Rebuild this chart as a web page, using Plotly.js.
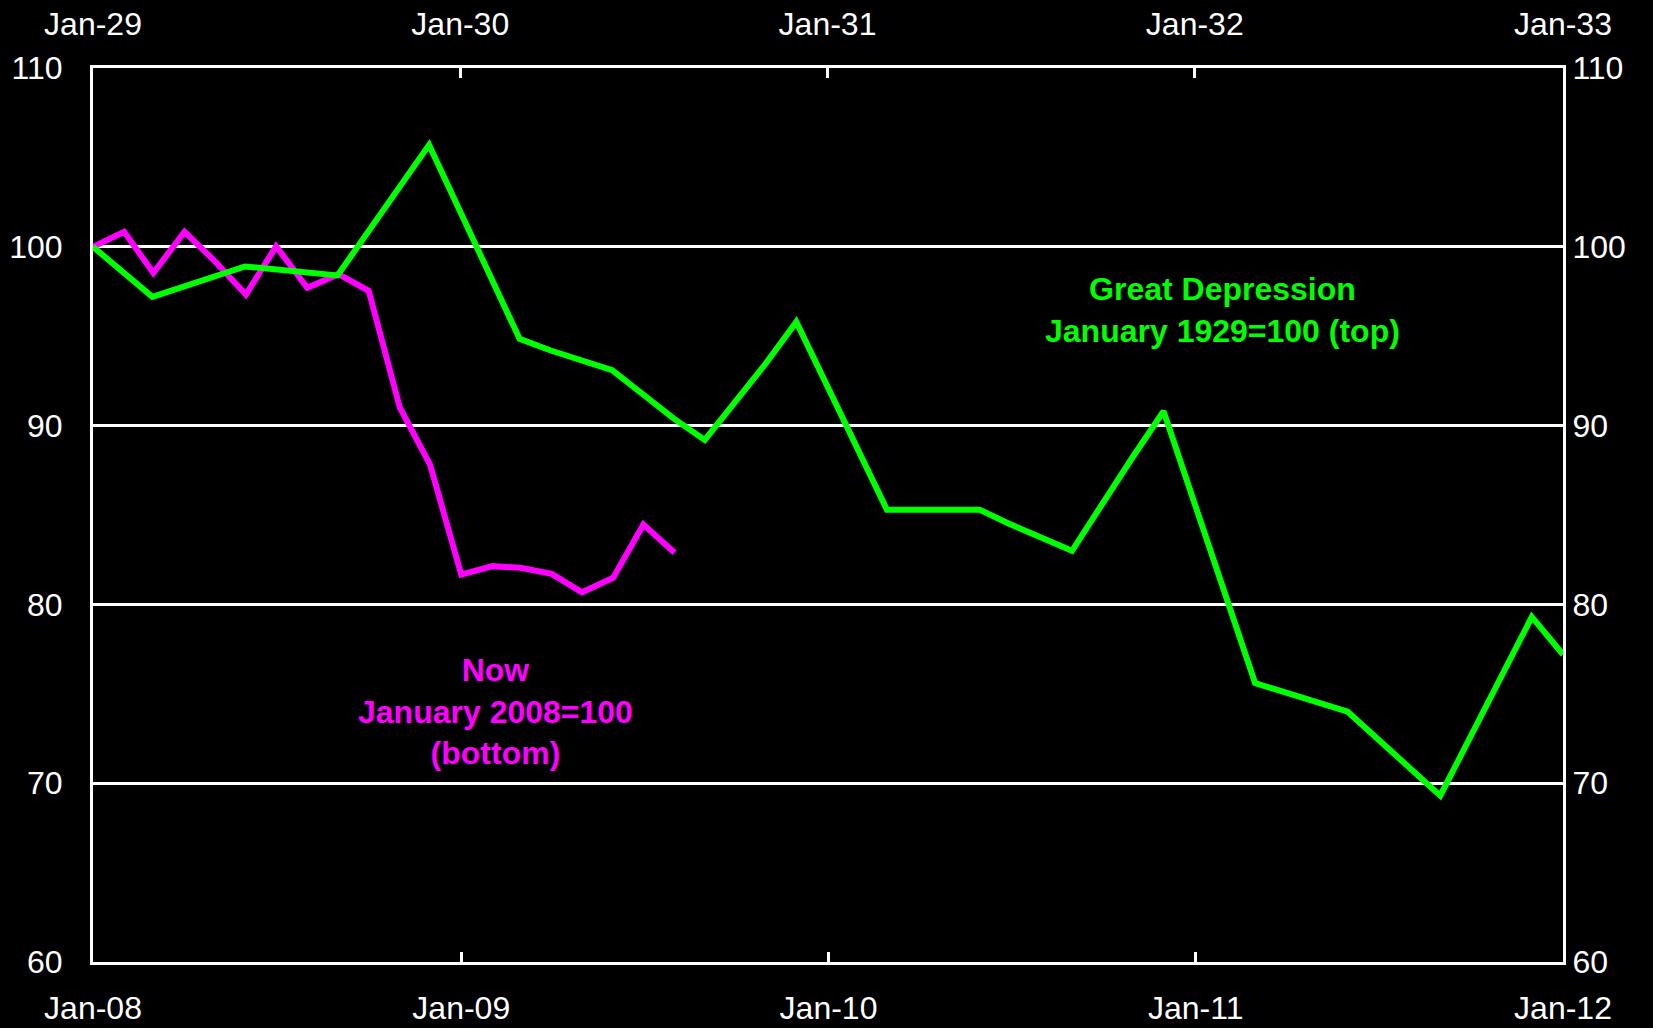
<!DOCTYPE html>
<html>
<head>
<meta charset="utf-8">
<script src="https://cdn.plot.ly/plotly-3.0.1.min.js"></script>
<style>
  html, body { margin: 0; padding: 0; background: #000; }
  #chart { width: 1653px; height: 1028px; }
</style>
</head>
<body>
<div id="chart"></div>
<script>
// Great Depression, January 1929 = 100 (top axis)
const gdDates = ['1929-01','1929-03','1929-06','1929-09','1929-12','1930-03','1930-04','1930-06','1930-08','1930-09','1930-11','1930-12','1931-03','1931-06','1931-07','1931-09','1931-11','1931-12','1932-03','1932-06','1932-09','1932-12','1933-01'];
const gdValues = [100, 97.2, 98.9, 98.4, 105.7, 94.85, 94.2, 93.1, 90.4, 89.2, 93.5, 95.8, 85.3, 85.3, 84.5, 83.0, 88.3, 90.8, 75.6, 74.0, 69.3, 79.3, 77.2];

// Now, January 2008 = 100 (bottom axis)
const nowDates = ['2008-01','2008-02','2008-03','2008-04','2008-05','2008-06','2008-07','2008-08','2008-09','2008-10','2008-11','2008-12','2009-01','2009-02','2009-03','2009-04','2009-05','2009-06','2009-07','2009-08'];
const nowValues = [100, 100.84, 98.54, 100.84, 99.2, 97.33, 100.03, 97.71, 98.47, 97.54, 91.0, 87.82, 81.67, 82.14, 82.05, 81.71, 80.68, 81.49, 84.47, 82.89];

const bottomTicks = ['2008-01-01','2009-01-01','2010-01-01','2011-01-01','2012-01-01'];
const bottomLabels = ['Jan-08','Jan-09','Jan-10','Jan-11','Jan-12'];
const topTicks = ['1929-01-01','1930-01-01','1931-01-01','1932-01-01','1933-01-01'];
const topLabels = ['Jan-29','Jan-30','Jan-31','Jan-32','Jan-33'];
const yTicks = [60, 70, 80, 90, 100, 110];

const greenLabel = 'Great Depression<br>January 1929=100 (top)';
const magentaLabel = 'Now<br>January 2008=100<br>(bottom)';

const GREEN = '#00FF00';
const MAGENTA = '#FF00FF';
const FONT = 'Liberation Sans, Arial, sans-serif';

const traces = [
  { x: gdDates, y: gdValues, xaxis: 'x2', yaxis: 'y', type: 'scatter', mode: 'lines',
    line: { color: GREEN, width: 6 }, name: 'Great Depression', hoverinfo: 'skip' },
  { x: nowDates, y: nowValues, xaxis: 'x', yaxis: 'y', type: 'scatter', mode: 'lines',
    line: { color: MAGENTA, width: 6 }, name: 'Now', hoverinfo: 'skip' }
];

const tickFont = { family: FONT, size: 32, color: '#FFFFFF' };

const layout = {
  width: 1653, height: 1028,
  paper_bgcolor: '#000000', plot_bgcolor: '#000000',
  showlegend: false,
  margin: { l: 93, r: 90, t: 68, b: 66, pad: 0 },
  font: { family: FONT, color: '#FFFFFF' },
  xaxis: {
    type: 'date', range: ['2008-01-01', '2012-01-01'],
    tickmode: 'array', tickvals: bottomTicks, ticktext: bottomLabels,
    ticks: 'inside', ticklen: 10, tickwidth: 3, tickcolor: '#FFFFFF',
    showgrid: false, zeroline: false,
    showline: true, linecolor: '#FFFFFF', linewidth: 3,
    tickfont: tickFont, ticklabelstandoff: 16, side: 'bottom'
  },
  xaxis2: {
    type: 'date', range: ['1929-01-01', '1933-01-01'], overlaying: 'x', side: 'top',
    tickmode: 'array', tickvals: topTicks, ticktext: topLabels,
    ticks: 'inside', ticklen: 10, tickwidth: 3, tickcolor: '#FFFFFF',
    showgrid: false, zeroline: false,
    showline: true, linecolor: '#FFFFFF', linewidth: 3,
    tickfont: tickFont, ticklabelstandoff: 17
  },
  yaxis: {
    range: [60, 110], tickmode: 'array', tickvals: yTicks,
    ticks: '', showgrid: true, gridcolor: '#FFFFFF', gridwidth: 3,
    zeroline: false, showline: true, linecolor: '#FFFFFF', linewidth: 3,
    tickfont: tickFont, ticklabelstandoff: 21
  },
  yaxis2: {
    range: [60, 110], tickmode: 'array', tickvals: yTicks, overlaying: 'y', side: 'right',
    ticks: '', showgrid: false, zeroline: false,
    showline: true, linecolor: '#FFFFFF', linewidth: 3,
    tickfont: tickFont, ticklabelstandoff: 0
  },
  annotations: [
    { xref: 'paper', yref: 'paper', x: 0.7685, y: 0.7288, text: greenLabel,
      showarrow: false, xanchor: 'center', yanchor: 'middle', align: 'center',
      font: { family: FONT, size: 32, color: GREEN, weight: 'bold' } },
    { xref: 'paper', yref: 'paper', x: 0.2738, y: 0.2806, text: magentaLabel,
      showarrow: false, xanchor: 'center', yanchor: 'middle', align: 'center',
      font: { family: FONT, size: 32, color: MAGENTA, weight: 'bold' } }
  ]
};

// invisible trace to activate yaxis2
traces.push({ x: nowDates.slice(0, 1), y: nowValues.slice(0, 1), xaxis: 'x', yaxis: 'y2',
  type: 'scatter', mode: 'lines', line: { width: 0 }, hoverinfo: 'skip', showlegend: false });

Plotly.newPlot('chart', traces, layout, { staticPlot: true, displayModeBar: false });
</script>
</body>
</html>
